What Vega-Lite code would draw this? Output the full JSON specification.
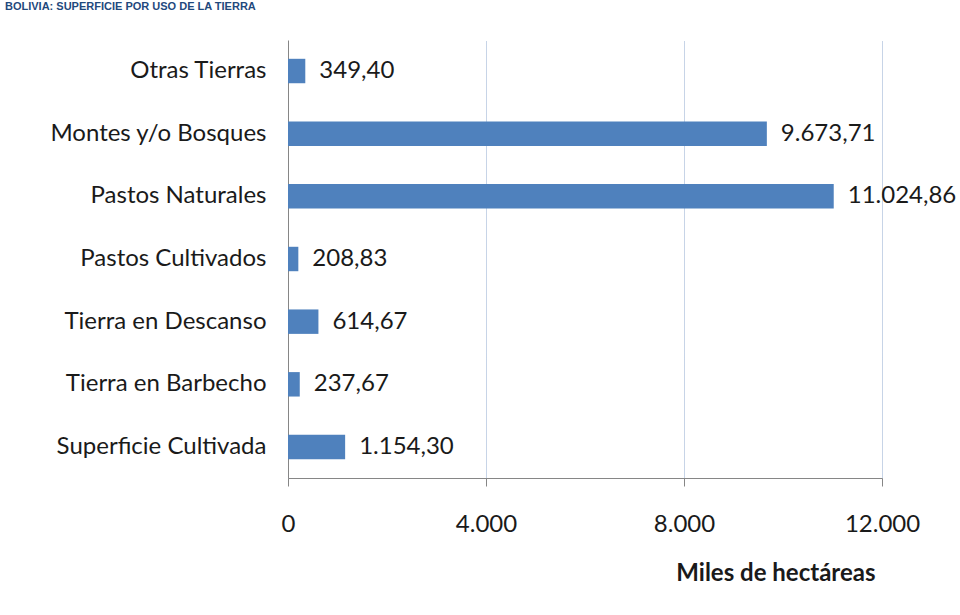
{
  "$schema": "https://vega.github.io/schema/vega-lite/v6.json",
  "width": 594,
  "height": 438,
  "autosize": {"type": "none"},
  "padding": {"left": 288, "top": 40, "right": 78, "bottom": 137},
  "background": "white",
  "title": {
    "text": "BOLIVIA: SUPERFICIE POR USO DE LA TIERRA",
    "anchor": "start",
    "frame": "group",
    "dx": -283,
    "offset": 17,
    "baseline": "bottom",
    "fontSize": 11,
    "font": "Liberation Sans",
    "fontWeight": "bold",
    "color": "#1F497D"
  },
  "config": {
    "locale": {"number": {"decimal": ",", "thousands": ".", "grouping": [3], "currency": ["", ""]}},
    "font": "Lato",
    "view": {"stroke": null}
  },
  "data": {
    "values": [
      {"uso": "Otras Tierras", "miles_ha": 349.40},
      {"uso": "Montes y/o Bosques", "miles_ha": 9673.71},
      {"uso": "Pastos Naturales", "miles_ha": 11024.86},
      {"uso": "Pastos Cultivados", "miles_ha": 208.83},
      {"uso": "Tierra en Descanso", "miles_ha": 614.67},
      {"uso": "Tierra en Barbecho", "miles_ha": 237.67},
      {"uso": "Superficie Cultivada", "miles_ha": 1154.30}
    ]
  },
  "encoding": {
    "y": {
      "field": "uso",
      "type": "nominal",
      "sort": null,
      "scale": {"paddingInner": 0.61, "paddingOuter": 0.3},
      "axis": {
        "title": null,
        "ticks": false,
        "labelPadding": 22,
        "labelFontSize": 24,
        "labelColor": "#1a1a1a",
        "domainColor": "#868686",
        "labelLimit": 400
      }
    },
    "x": {
      "field": "miles_ha",
      "type": "quantitative",
      "scale": {"domain": [0, 12000], "nice": false},
      "axis": {
        "values": [0, 4000, 8000, 12000],
        "format": ",.0f",
        "labelFlush": false,
        "title": "Miles de hectáreas",
        "titleFontSize": 24,
        "titleFontWeight": "bold",
        "titleColor": "#1a1a1a",
        "titleAlign": "right",
        "titleAnchor": null,
        "titleX": 587,
        "titleY": 102,
        "titleBaseline": "alphabetic",
        "labelFontSize": 24,
        "labelColor": "#1a1a1a",
        "labelPadding": 26,
        "tickSize": 8,
        "tickColor": "#868686",
        "domainColor": "#868686",
        "grid": true,
        "gridColor": "#8EA9CF",
        "gridDash": [1, 1],
        "gridWidth": 1
      }
    }
  },
  "layer": [
    {"mark": {"type": "bar", "color": "#4F81BD"}},
    {
      "mark": {"type": "text", "align": "left", "dx": 14, "fontSize": 24, "color": "#1a1a1a"},
      "encoding": {"text": {"field": "miles_ha", "type": "quantitative", "format": ",.2f"}}
    }
  ]
}
